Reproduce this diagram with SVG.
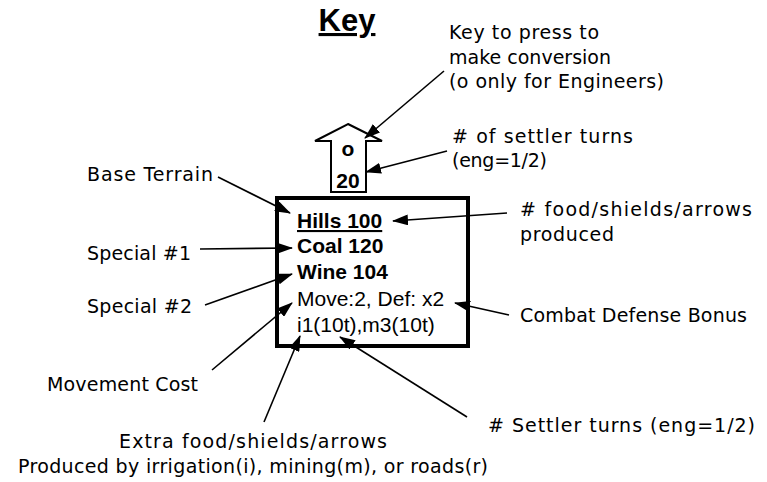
<svg xmlns="http://www.w3.org/2000/svg" width="767" height="482" viewBox="0 0 767 482">
<style>
.lbl{font-family:"DejaVu Sans","Liberation Sans",sans-serif;font-size:19px;fill:#000}
.box{font-family:"Liberation Sans",Arial,sans-serif;font-size:21px;fill:#000}
.b{font-weight:bold}
.con line{stroke:#000;stroke-width:1.6;marker-end:url(#ah)}
</style>
<defs>
<marker id="ah" markerUnits="userSpaceOnUse" markerWidth="16" markerHeight="11" refX="15" refY="5.5" orient="auto">
<path d="M0,0 L16,5.5 L0,11 Z" fill="#000"/>
</marker>
</defs>
<rect width="767" height="482" fill="#fff"/>
<g id="title">
<text x="347" y="31" text-anchor="middle" font-family="Liberation Sans, Arial, sans-serif" font-size="31" font-weight="bold" text-decoration="underline">Key</text>
</g>
<g id="key-arrow">
<polygon points="348,124 382,141 366,141 366,192 331,192 331,141 315,141" fill="#fff" stroke="#000" stroke-width="2"/>
<text class="box b" x="348" y="156" text-anchor="middle" font-size="22">o</text>
<text class="box b" x="348" y="188" text-anchor="middle" font-size="24">20</text>
</g>
<g id="tile">
<rect x="277" y="198" width="191" height="148" fill="#fff" stroke="#000" stroke-width="4"/>
<text class="box b" x="297" y="228" text-decoration="underline">Hills 100</text>
<text class="box b" x="297" y="253">Coal 120</text>
<text class="box b" x="297" y="279">Wine 104</text>
<text class="box" x="297" y="306">Move:2, Def: x2</text>
<text class="box" x="297" y="332">i1(10t),m3(10t)</text>
</g>
<g id="lbl-key">
<text class="lbl" x="449" y="39" textLength="150">Key to press to</text>
<text class="lbl" x="449" y="64" textLength="162">make conversion</text>
<text class="lbl" x="449" y="88" textLength="215">(o only for Engineers)</text>
</g>
<g id="lbl-turns-top">
<text class="lbl" x="452" y="143" textLength="181"># of settler turns</text>
<text class="lbl" x="452" y="167" textLength="95">(eng=1/2)</text>
</g>
<g id="lbl-food">
<text class="lbl" x="520" y="216" textLength="232"># food/shields/arrows</text>
<text class="lbl" x="520" y="241" textLength="94">produced</text>
</g>
<g id="lbl-combat">
<text class="lbl" x="520" y="322" textLength="227">Combat Defense Bonus</text>
</g>
<g id="lbl-turns-bottom">
<text class="lbl" x="488" y="432" textLength="267"># Settler turns (eng=1/2)</text>
</g>
<g id="lbl-base">
<text class="lbl" x="87" y="181" textLength="126">Base Terrain</text>
</g>
<g id="lbl-special1">
<text class="lbl" x="87" y="260" textLength="104">Special #1</text>
</g>
<g id="lbl-special2">
<text class="lbl" x="87" y="313" textLength="105">Special #2</text>
</g>
<g id="lbl-move">
<text class="lbl" x="47" y="391" textLength="151">Movement Cost</text>
</g>
<g id="lbl-extra">
<text class="lbl" x="119" y="448" textLength="268">Extra food/shields/arrows</text>
<text class="lbl" x="18" y="473" textLength="470">Produced by irrigation(i), mining(m), or roads(r)</text>
</g>
<g id="connectors" class="con">
<line x1="444" y1="71" x2="365" y2="138"/>
<line x1="447" y1="151" x2="366" y2="172"/>
<line x1="507" y1="213" x2="393" y2="221"/>
<line x1="509" y1="315" x2="455" y2="303"/>
<line x1="467" y1="417" x2="340" y2="337"/>
<line x1="218" y1="177" x2="290" y2="213"/>
<line x1="200" y1="249" x2="292" y2="248"/>
<line x1="205" y1="305" x2="292" y2="274"/>
<line x1="212" y1="370" x2="292" y2="303"/>
<line x1="264" y1="422" x2="300" y2="336"/>
</g>
</svg>
